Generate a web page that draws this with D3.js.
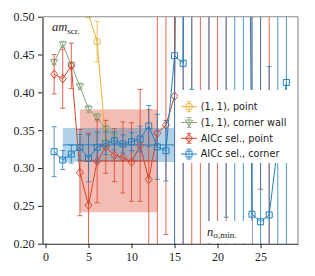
<!DOCTYPE html>
<html>
<head>
<meta charset="utf-8">
<script src="https://cdn.jsdelivr.net/npm/d3@7"></script>
<style>
  body { margin: 0; background: #fff; }
  svg { display: block; }
</style>
</head>
<body>
<svg></svg>
<script>
// n_sigma,min values
const steps = d3.range(1, 29);

// (1, 1), point
const yellowX = [4, 5, 6, 7];
const yellowY = [0.62, 0.503, 0.467, 0.335];
const yellowErr = [0.02, 0.004, 0.027, 0.02];

// (1, 1), corner wall
const greenX = [1, 2, 3, 4, 5, 6, 7, 8];
const greenY = [0.440, 0.4635, 0.436, 0.408, 0.378, 0.367, 0.352, 0.343];
const greenErr = [0.0035, 0.004, 0.004, 0.004, 0.005, 0.005, 0.004, 0.004];

// AICc sel., point (x = 1..28)
const redY = [0.424, 0.418, 0.435, 0.294, 0.251, 0.309, 0.328, 0.317, 0.314, 0.308,
              0.330, 0.285, 0.346, 0.357, 0.395, 1.5, 2.0, 1.2, 1.8, 1.4,
              2.2, 2.5, 1.9, 1.6, 1.3, 2.4, 3.0, 2.2];
const redErr = [0.026, 0.039, 0.030, 0.057, 0.095, 0.055, 0.035, 0.035, 0.047, 0.052,
                0.074, 0.092, 0.26, 0.145, 0.35, 1.5, 2.0, 1.2, 1.8, 1.4,
                2.2, 0.8, 0.6, 1.6, 1.028, 2.4, 1.0, 0.9];

// AICc sel., corner (x = 1..28)
const blueY = [0.3216, 0.3106, 0.3185, 0.3274, 0.3128, 0.3274, 0.3327, 0.336, 0.3318, 0.3348,
               0.3384, 0.3556, 0.328, 0.3229, 0.4485, 0.4384, 2.5, 1.8, 1.6, 2.0,
               1.4, 2.2, 1.7, 0.239, 0.229, 0.238, 0.33, 0.413];
const blueErr = [0.033, 0.0125, 0.012, 0.017, 0.031, 0.02, 0.015, 0.012, 0.012, 0.012,
                 0.017, 0.027, 0.043, 0.04, 0.5, 0.4, 2.096, 1.0, 1.6, 0.7,
                 1.165, 2.2, 1.7, 0.3, 0.35, 0.196, 0.3, 0.35];

// fitted plateaus: red (point), blue (corner)
const fitRange = [[4, 13], [2, 15]];
const fitValue = [0.3095, 0.3305];
const fitErr = [0.068, 0.0225];

const xTicks = [0, 5, 10, 15, 20, 25];
const yTicks = [0.20, 0.25, 0.30, 0.35, 0.40, 0.45, 0.50];
const seriesNames = ["(1, 1), point", "(1, 1), corner wall", "AICc sel., point", "AICc sel., corner"];

const width = 315, height = 276;
const plot = { left: 42.5, right: 298, top: 16.7, bottom: 243.7 };
const colors = ["#e6b43c", "#8aa67c", "#dc4229", "#1f80c0"];

const svg = d3.select("svg").attr("width", width).attr("height", height);

const x = d3.scaleLinear().domain([-0.35, 29.35]).range([plot.left, plot.right]);
const y = d3.scaleLinear().domain([0.20, 0.50]).range([plot.bottom, plot.top]);

svg.append("defs").append("clipPath").attr("id", "clip")
  .append("rect")
  .attr("x", plot.left).attr("y", plot.top)
  .attr("width", plot.right - plot.left).attr("height", plot.bottom - plot.top);

const area = svg.append("g").attr("clip-path", "url(#clip)");

// plateau bands
const bandColors = [colors[2], colors[3]];
const bandOpacity = [0.35, 0.35];
fitRange.forEach((r, i) => {
  area.append("rect")
    .attr("x", x(r[0]))
    .attr("y", y(fitValue[i] + fitErr[i]))
    .attr("width", x(r[1]) - x(r[0]))
    .attr("height", y(fitValue[i] - fitErr[i]) - y(fitValue[i] + fitErr[i]))
    .attr("fill", bandColors[i])
    .attr("opacity", bandOpacity[i]);
});
fitRange.forEach((r, i) => {
  area.append("line")
    .attr("x1", x(r[0])).attr("x2", x(r[1]))
    .attr("y1", y(fitValue[i])).attr("y2", y(fitValue[i]))
    .attr("stroke", bandColors[i])
    .attr("stroke-width", 1.2)
    .attr("opacity", 0.8);
});

// marker shapes
function markerPath(kind) {
  if (kind === "circle") return d3.symbol(d3.symbolCircle, 36)();
  if (kind === "square") return "M-3,-3H3V3H-3Z";
  if (kind === "diamond") return "M0,-4.2L3.5,0L0,4.2L-3.5,0Z";
  if (kind === "tridown") return "M-3.6,-2.4L3.6,-2.4L0,3.8Z";
}

function drawSeries(g, xs, ys, errs, color, kind) {
  const pts = xs.map((v, i) => ({ x: v, y: ys[i], e: errs[i] }));
  const s = g.append("g");

  const eb = s.selectAll(".eb").data(pts).enter().append("g")
    .attr("stroke", color).attr("opacity", 0.8).attr("stroke-width", 1);
  eb.append("line")
    .attr("x1", d => x(d.x)).attr("x2", d => x(d.x))
    .attr("y1", d => y(d.y - d.e)).attr("y2", d => y(d.y + d.e));
  eb.append("line")
    .attr("x1", d => x(d.x) - 2.5).attr("x2", d => x(d.x) + 2.5)
    .attr("y1", d => y(d.y - d.e)).attr("y2", d => y(d.y - d.e));
  eb.append("line")
    .attr("x1", d => x(d.x) - 2.5).attr("x2", d => x(d.x) + 2.5)
    .attr("y1", d => y(d.y + d.e)).attr("y2", d => y(d.y + d.e));

  s.append("path")
    .datum(pts)
    .attr("fill", "none")
    .attr("stroke", color)
    .attr("stroke-width", 1)
    .attr("d", d3.line().x(d => x(d.x)).y(d => y(d.y)));

  s.selectAll(".mk").data(pts).enter().append("path")
    .attr("transform", d => `translate(${x(d.x)},${y(d.y)})`)
    .attr("d", markerPath(kind))
    .attr("fill", "none")
    .attr("stroke", color)
    .attr("stroke-width", 1);
}

drawSeries(area, yellowX, yellowY, yellowErr, colors[0], "circle");
drawSeries(area, greenX, greenY, greenErr, colors[1], "tridown");
drawSeries(area, steps, redY, redErr, colors[2], "diamond");
drawSeries(area, steps, blueY, blueErr, colors[3], "square");

// axes
const serif = "'Liberation Serif', 'DejaVu Serif', serif";
const yAxis = svg.append("g")
  .attr("transform", `translate(${plot.left},0)`)
  .call(d3.axisLeft(y).tickValues(yTicks).tickFormat(d3.format(".2f"))
    .tickSize(4.5).tickSizeOuter(0).tickPadding(3.5));
const xAxis = svg.append("g")
  .attr("transform", `translate(0,${plot.bottom})`)
  .call(d3.axisBottom(x).tickValues(xTicks).tickSize(4.5).tickSizeOuter(0).tickPadding(4));
[xAxis, yAxis].forEach(a => {
  a.selectAll("text").style("font-family", serif).style("font-size", "12px").attr("fill", "#222");
  a.selectAll("line").attr("stroke", "#222");
  a.select(".domain").attr("stroke", "#222").attr("stroke-width", 1.1);
});

svg.append("line")
  .attr("x1", plot.left).attr("x2", plot.right)
  .attr("y1", plot.top).attr("y2", plot.top)
  .attr("stroke", "#8a8a8a").attr("stroke-width", 1.1);
svg.append("line")
  .attr("x1", plot.right).attr("x2", plot.right)
  .attr("y1", plot.top).attr("y2", plot.bottom)
  .attr("stroke", "#8a8a8a").attr("stroke-width", 1.1);

// annotations
const am = svg.append("text")
  .attr("x", 52).attr("y", 31)
  .style("font-family", serif).style("font-size", "12.5px").attr("fill", "#222");
am.append("tspan").style("font-style", "italic").text("am");
am.append("tspan").attr("dy", 2.5).style("font-size", "9px").text("scr.");

svg.append("rect")
  .attr("x", 203).attr("y", 221).attr("width", 49).attr("height", plot.bottom - 221 - 0.6)
  .attr("fill", "#fff");
const ns = svg.append("text")
  .attr("x", 207).attr("y", 235.5)
  .style("font-family", serif).style("font-size", "12.5px").attr("fill", "#222");
ns.append("tspan").style("font-style", "italic").text("n");
ns.append("tspan").attr("dy", 2.5).style("font-size", "9px").text("σ,min.");

// legend
const legendX = 178, legendY = 90;
const legend = svg.append("g");
legend.append("rect")
  .attr("x", legendX).attr("y", legendY)
  .attr("width", plot.right - legendX - 1.5).attr("height", 73)
  .attr("fill", "#fff");
const kinds = ["circle", "tridown", "diamond", "square"];
seriesNames.forEach((name, i) => {
  const cy = 106.7 + i * 15.8;
  const item = legend.append("g").attr("stroke", colors[i]).attr("fill", "none");
  item.append("line").attr("x1", 181).attr("x2", 197).attr("y1", cy).attr("y2", cy);
  item.append("line").attr("x1", 189).attr("x2", 189).attr("y1", cy - 5).attr("y2", cy + 5).attr("opacity", 0.8);
  item.append("line").attr("x1", 186.5).attr("x2", 191.5).attr("y1", cy - 5).attr("y2", cy - 5).attr("opacity", 0.8);
  item.append("line").attr("x1", 186.5).attr("x2", 191.5).attr("y1", cy + 5).attr("y2", cy + 5).attr("opacity", 0.8);
  item.append("path").attr("transform", `translate(189,${cy})`).attr("d", markerPath(kinds[i]));
  legend.append("text")
    .attr("x", 200.7).attr("y", cy)
    .attr("dy", "0.35em")
    .style("font-family", "'DejaVu Sans', sans-serif")
    .style("font-size", "9.7px")
    .attr("fill", "#222")
    .text(name);
});
</script>
</body>
</html>
